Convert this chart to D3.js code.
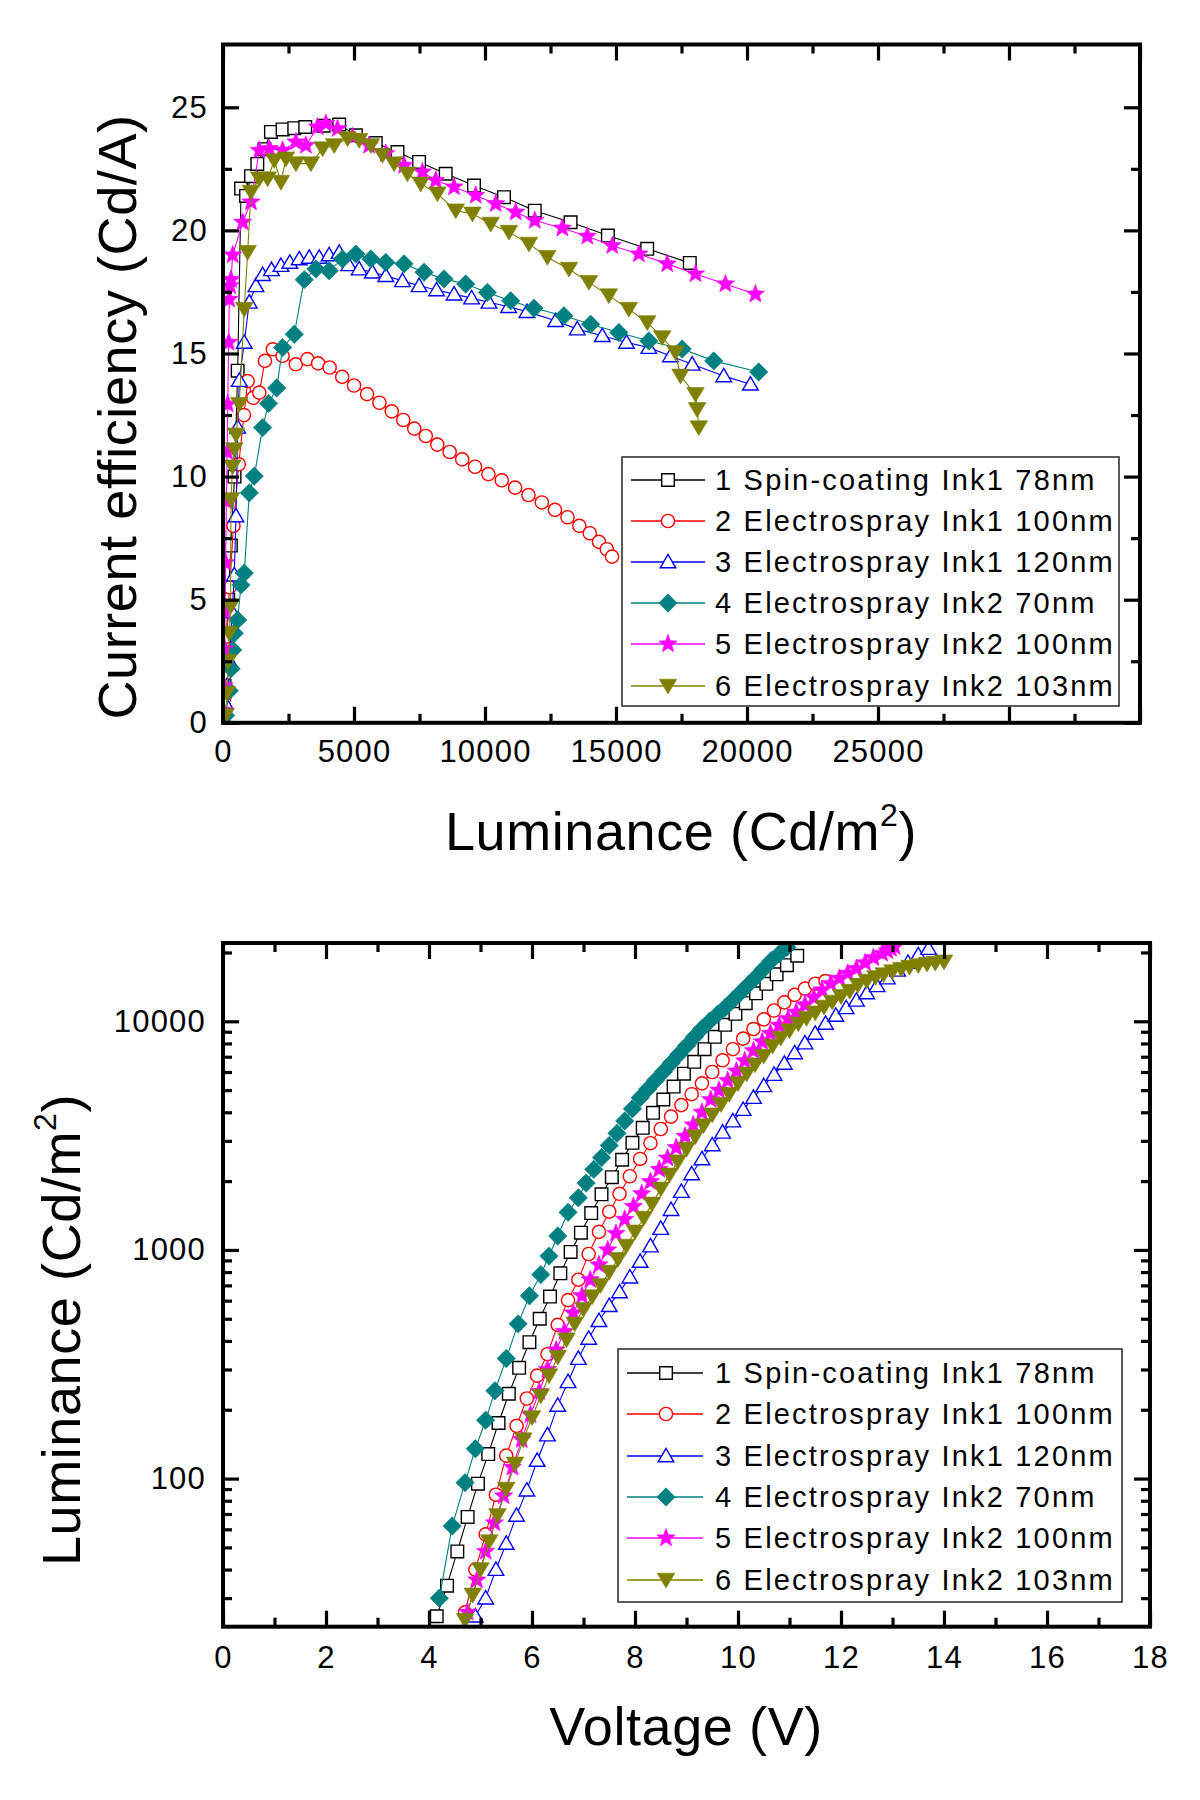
<!DOCTYPE html>
<html><head><meta charset="utf-8">
<script src="https://cdn.jsdelivr.net/npm/d3@7"></script>
<style>body{margin:0;background:#fff}svg{display:block}</style>
</head><body>
<svg id="c" width="1200" height="1800"></svg>
<script>
// ---------------- DATA ----------------
const seriesNames = ["1 Spin-coating Ink1 78nm","2 Electrospray Ink1 100nm","3 Electrospray Ink1 120nm","4 Electrospray Ink2 70nm","5 Electrospray Ink2 100nm","6 Electrospray Ink2 103nm"];
const seriesColors = ["#000000","#ff0000","#0000ff","#008080","#ff00ff","#808000"];
const seriesShapes = ["square","circle","triangleUp","diamond","star","triangleDown"];
const seriesFilled = [false,false,false,true,true,true];

// Top chart: luminance (Cd/m2) vs current efficiency (Cd/A)
const ceLum1 = [30,60,110,200,300,440,560,690,880,1070,1310,1580,1830,2275,2720,3138,3840,4435,5070,5830,6660,7484,8500,9580,10725,11900,13267,14690,16190,17816];
const ceEff1 = [0.5,1.5,3.0,5.0,7.2,10.0,14.3,21.7,21.4,22.2,22.7,23.3,24.0,24.1,24.15,24.2,24.25,24.3,23.86,23.55,23.18,22.78,22.3,21.82,21.35,20.8,20.33,19.79,19.25,18.68];
const ceLum2 = [25,50,90,150,250,400,600,800,941,1150,1385,1600,1900,2275,2780,3220,3630,4070,4550,5000,5500,5970,6440,6880,7300,7740,8180,8650,9130,9620,10130,10640,11150,11660,12170,12670,13150,13600,14000,14350,14650,14850];
const ceEff2 = [0.3,1.0,2.0,3.5,5.5,8.0,10.5,12.5,13.88,13.2,13.41,14.7,15.17,14.9,14.56,14.77,14.6,14.43,14.05,13.7,13.35,13.0,12.65,12.3,11.95,11.65,11.3,11.0,10.7,10.4,10.1,9.85,9.55,9.25,8.95,8.65,8.35,8.0,7.7,7.35,7.05,6.75];
const ceLum3 = [30,80,150,250,350,430,496,560,622,812,1003,1258,1513,1850,2211,2550,2910,3290,3672,4050,4435,4800,5197,5700,6214,6850,7484,8150,8820,9490,10152,10900,11600,12695,13523,14476,15400,16253,17080,17907,19112,20130];
const ceEff3 = [0.2,0.8,1.5,2.5,4.5,6.0,8.4,12.0,13.9,15.45,17.08,17.75,18.2,18.4,18.57,18.7,18.84,18.9,18.9,19.0,19.1,18.6,18.43,18.3,18.16,17.95,17.75,17.58,17.41,17.25,17.08,16.9,16.7,16.33,15.99,15.72,15.45,15.24,14.9,14.56,14.09,13.75];
const ceLum4 = [100,240,305,370,431,560,686,812,1003,1194,1513,1740,2050,2275,2720,3100,3546,4053,4563,5070,5642,6214,6912,7675,8437,9264,10091,10980,11870,13012,14030,15109,16253,17525,18730,20446];
const ceEff4 = [0.3,1.3,2.2,2.96,3.64,4.18,5.6,6.08,9.34,10.02,11.99,12.97,13.6,15.24,15.78,18.0,18.43,18.36,18.84,19.04,18.84,18.7,18.64,18.3,18.03,17.82,17.48,17.14,16.84,16.53,16.19,15.85,15.51,15.18,14.7,14.25];
const ceLum5 = [20,40,60,80,100,130,160,180,217,240,270,305,370,751,1067,1385,1766,2275,2783,3164,3610,3927,4372,4950,5578,6214,6912,7613,8120,8820,9645,10408,11170,11900,12951,13904,14857,15872,16955,18033,19176,20320];
const ceEff5 = [0.5,1.5,3.0,4.5,6.5,9.0,11.0,12.94,15.45,17.2,17.75,18.0,19.0,20.33,21.15,23.25,23.32,23.25,23.59,23.45,24.2,24.34,24.13,23.8,23.45,23.12,22.64,22.37,22.03,21.76,21.42,21.08,20.74,20.4,20.09,19.76,19.38,19.04,18.64,18.23,17.82,17.41];
const ceLum6 = [100,145,200,240,290,305,362,430,496,622,812,941,1067,1385,1703,1957,2211,2402,2783,3355,3801,4245,4753,5197,5642,6088,6531,7041,7549,8185,8883,9520,10217,10915,11678,12378,13203,13965,14728,15490,16192,16764,17270,17460,18033,18097,18160];
const ceEff6 = [0.3,1.2,2.5,3.64,4.72,9.07,10.4,11.1,11.7,12.94,16.8,19.11,21.56,22.1,22.1,22.84,21.96,22.91,22.71,22.71,23.32,23.45,23.73,23.66,23.45,23.05,22.71,22.3,21.89,21.49,20.8,20.67,20.26,19.93,19.45,18.91,18.43,17.89,17.35,16.8,16.26,15.65,15.04,14.09,13.34,12.73,11.99];

// Bottom chart: voltage (V) vs luminance (Cd/m2)
const jvVolt1 = [4.15,4.35,4.55,4.75,4.95,5.15,5.35,5.55,5.75,5.95,6.15,6.35,6.55,6.75,6.95,7.15,7.35,7.55,7.75,7.95,8.15,8.35,8.55,8.75,8.95,9.15,9.35,9.55,9.75,9.95,10.15,10.35,10.55,10.75,10.95,11.15];
const jvLum1 = [25,34,48,68,95,128,175,235,305,395,500,625,790,980,1190,1450,1750,2080,2480,2940,3420,3980,4550,5180,5900,6650,7550,8550,9650,10780,12000,13250,14580,16050,17600,19350];
const jvVolt2 = [4.7,4.9,5.1,5.3,5.5,5.7,5.9,6.1,6.3,6.5,6.7,6.9,7.1,7.3,7.5,7.7,7.9,8.1,8.3,8.5,8.7,8.9,9.1,9.3,9.5,9.7,9.9,10.1,10.3,10.5,10.7,10.9,11.1,11.3,11.5,11.7];
const jvLum2 = [26,40,57,85,126,170,224,282,350,470,603,741,960,1200,1470,1760,2100,2500,2930,3380,3830,4300,4800,5350,6000,6750,7550,8400,9250,10200,11150,12100,13050,13900,14600,15000];
const jvVolt3 = [4.9,5.1,5.3,5.5,5.7,5.9,6.1,6.3,6.5,6.7,6.9,7.1,7.3,7.5,7.7,7.9,8.1,8.3,8.5,8.7,8.9,9.1,9.3,9.5,9.7,9.9,10.1,10.3,10.5,10.7,10.9,11.1,11.3,11.5,11.7,11.9,12.1,12.3,12.5,12.7,12.9,13.1,13.3,13.5,13.7];
const jvLum3 = [25,30,40,52,69,89,120,155,209,265,335,410,490,570,655,760,890,1040,1240,1500,1800,2150,2500,2880,3270,3660,4110,4640,5220,5850,6540,7270,8030,8850,9780,10600,11450,12350,13300,14300,15450,16700,18100,19500,20800];
const jvVolt4 = [4.2,4.45,4.7,4.9,5.1,5.28,5.5,5.73,5.95,6.17,6.33,6.5,6.7,6.9,7.05,7.2,7.35,7.5,7.65,7.8,7.95,8.1,8.25,8.4,8.55,8.7,8.85,9.0,9.15,9.3,9.45,9.6,9.75,9.9,10.05,10.2,10.35,10.5,10.65,10.8,10.95];
const jvLum4 = [30,62,96,135,180,242,335,475,630,780,940,1150,1460,1690,1960,2250,2535,2866,3236,3664,4140,4634,5058,5520,6012,6561,7161,7814,8531,9290,10000,10720,11480,12380,13370,14450,15630,16980,18450,19720,21090];
const jvVolt5 = [4.75,4.93,5.1,5.27,5.45,5.62,5.8,5.97,6.14,6.3,6.47,6.63,6.8,6.97,7.13,7.3,7.47,7.63,7.8,7.97,8.13,8.3,8.47,8.63,8.8,8.97,9.13,9.3,9.47,9.63,9.8,9.97,10.13,10.3,10.47,10.63,10.8,10.97,11.13,11.3,11.47,11.63,11.8,11.97,12.13,12.3,12.47,12.63,12.8,12.9,12.97,13.04];
const jvLum5 = [26,36,48,64,84,112,148,190,240,300,365,440,530,630,740,860,1000,1180,1360,1550,1760,1990,2250,2520,2800,3140,3520,4000,4540,4990,5500,6050,6710,7430,8130,8850,9600,10250,10950,11800,12700,13700,14600,15400,16200,17000,18000,18950,19800,20300,20800,21200];
const jvVolt6 = [4.7,4.85,5.0,5.17,5.33,5.5,5.67,5.83,6.0,6.17,6.33,6.5,6.67,6.83,7.0,7.17,7.33,7.5,7.67,7.83,8.0,8.17,8.33,8.5,8.67,8.83,9.0,9.17,9.33,9.5,9.67,9.83,10.0,10.17,10.33,10.5,10.67,10.83,11.0,11.17,11.33,11.5,11.67,11.83,12.0,12.17,12.33,12.5,12.67,12.83,13.0,13.17,13.33,13.5,13.67,13.83,14.0];
const jvLum6 = [24,31,40,53,69,90,116,148,185,230,282,340,405,475,550,625,700,800,910,1040,1200,1380,1590,1850,2130,2430,2760,3130,3500,3900,4330,4800,5350,5900,6450,7050,7800,8450,9100,9750,10300,10900,11550,12150,12850,13550,14400,15000,15550,16000,16500,16900,17250,17550,17800,18000,18200];

// Axis ticks
const ceXMajor = [0,5000,10000,15000,20000,25000,30000,35000];
const ceXLabels = ["0","5000","10000","15000","20000","25000","",""];
const ceXMinor = [2500,7500,12500,17500,22500,27500,32500];
const ceYMajor = [0,5,10,15,20,25];
const ceYMinor = [2.5,7.5,12.5,17.5,22.5];
const jvXMajor = [0,2,4,6,8,10,12,14,16,18];
const jvXMinor = [1,3,5,7,9,11,13,15,17];
const jvYMajor = [100,1000,10000];
const jvYMinor = [30,40,50,60,70,80,90,200,300,400,500,600,700,800,900,2000,3000,4000,5000,6000,7000,8000,9000,20000];

// ---------------- DRAWING ----------------
const FONT = "'Liberation Sans', Arial, Helvetica, sans-serif";
const svg = d3.select("#c");
svg.append("rect").attr("width",1200).attr("height",1800).attr("fill","#fff");

function starPath(R, r) {
  const pts = [];
  for (let i = 0; i < 10; i++) {
    const a = -Math.PI/2 + i*Math.PI/5;
    const rr = i % 2 === 0 ? R : r;
    pts.push([rr*Math.cos(a), rr*Math.sin(a)]);
  }
  return "M" + pts.map(p => p[0].toFixed(2)+","+p[1].toFixed(2)).join("L") + "Z";
}
function markerPath(shape) {
  switch (shape) {
    case "square": return "M-6.3,-6.3H6.3V6.3H-6.3Z";
    case "circle": return "M6.6,0A6.6,6.6 0 1,1 -6.6,0A6.6,6.6 0 1,1 6.6,0Z";
    case "triangleUp": return "M0,-7.6L7.8,5.8L-7.8,5.8Z";
    case "triangleDown": return "M0,8L-8.8,-6.8L8.8,-6.8Z";
    case "diamond": return "M0,-9.2L9.2,0L0,9.2L-9.2,0Z";
    case "star": return starPath(9.6, 4.1);
  }
}
function styleMarker(sel, i) {
  sel.attr("d", markerPath(seriesShapes[i]))
    .attr("fill", seriesFilled[i] ? seriesColors[i] : "#fff")
    .attr("stroke", seriesColors[i])
    .attr("stroke-width", seriesFilled[i] ? 0.6 : 1.4);
}

function drawPanel(cfg) {
  const g = svg.append("g");
  const clipId = "clip" + cfg.id;
  g.append("clipPath").attr("id", clipId).append("rect")
    .attr("x", cfg.l).attr("y", cfg.t).attr("width", cfg.r - cfg.l).attr("height", cfg.b - cfg.t);
  const data = g.append("g").attr("clip-path", `url(#${clipId})`);
  cfg.series.forEach((s, i) => {
    const pts = s.x.map((v, k) => [v, s.y[k]]);
    const line = d3.line().x(d => cfg.x(d[0])).y(d => cfg.y(d[1]));
    data.append("path").attr("d", line(pts)).attr("fill","none")
      .attr("stroke", seriesColors[i]).attr("stroke-width", 1.1);
    data.append("g").selectAll("path").data(pts).join("path")
      .attr("transform", d => `translate(${cfg.x(d[0])},${cfg.y(d[1])})`)
      .call(styleMarker, i);
  });

  const axStyle = (a) => {
    a.select(".domain").remove();
    a.selectAll("line").attr("stroke","#000").attr("stroke-width",3.2);
    a.selectAll("text").attr("font-family", FONT).attr("font-size", 31)
      .attr("fill","#000").attr("letter-spacing", 1.2);
  };
  const MJ = -16, MN = -9;
  g.append("g").attr("transform",`translate(0,${cfg.b})`)
    .call(d3.axisBottom(cfg.x).tickValues(cfg.xMajor).tickFormat((d,i)=>cfg.xLabels[i]).tickSizeInner(MJ).tickSizeOuter(0).tickPadding(cfg.xPad)).call(axStyle);
  g.append("g").attr("transform",`translate(0,${cfg.b})`)
    .call(d3.axisBottom(cfg.x).tickValues(cfg.xMinor).tickFormat("").tickSizeInner(MN).tickSizeOuter(0)).call(axStyle);
  g.append("g").attr("transform",`translate(0,${cfg.t})`)
    .call(d3.axisTop(cfg.x).tickValues(cfg.xMajor).tickFormat("").tickSizeInner(MJ).tickSizeOuter(0)).call(axStyle);
  g.append("g").attr("transform",`translate(0,${cfg.t})`)
    .call(d3.axisTop(cfg.x).tickValues(cfg.xMinor).tickFormat("").tickSizeInner(MN).tickSizeOuter(0)).call(axStyle);
  g.append("g").attr("transform",`translate(${cfg.l},0)`)
    .call(d3.axisLeft(cfg.y).tickValues(cfg.yMajor).tickFormat((d,i)=>cfg.yLabels[i]).tickSizeInner(MJ).tickSizeOuter(0).tickPadding(cfg.yPad)).call(axStyle);
  g.append("g").attr("transform",`translate(${cfg.l},0)`)
    .call(d3.axisLeft(cfg.y).tickValues(cfg.yMinor).tickFormat("").tickSizeInner(MN).tickSizeOuter(0)).call(axStyle);
  g.append("g").attr("transform",`translate(${cfg.r},0)`)
    .call(d3.axisRight(cfg.y).tickValues(cfg.yMajor).tickFormat("").tickSizeInner(MJ).tickSizeOuter(0)).call(axStyle);
  g.append("g").attr("transform",`translate(${cfg.r},0)`)
    .call(d3.axisRight(cfg.y).tickValues(cfg.yMinor).tickFormat("").tickSizeInner(MN).tickSizeOuter(0)).call(axStyle);
  g.append("rect").attr("x",cfg.l).attr("y",cfg.t).attr("width",cfg.r-cfg.l).attr("height",cfg.b-cfg.t)
    .attr("fill","none").attr("stroke","#000").attr("stroke-width",4);

  const L = cfg.legend;
  g.append("rect").attr("x",L.x0).attr("y",L.y0).attr("width",L.x1-L.x0).attr("height",L.y1-L.y0)
    .attr("fill","#fff").attr("stroke","#333").attr("stroke-width",1.6);
  seriesNames.forEach((nm, i) => {
    const yy = L.rows[i];
    g.append("line").attr("x1",L.lx0).attr("x2",L.lx1).attr("y1",yy).attr("y2",yy)
      .attr("stroke",seriesColors[i]).attr("stroke-width",1.6);
    g.append("path").attr("transform",`translate(${L.sx},${yy})`).call(styleMarker, i);
    g.append("text").attr("x",L.tx).attr("y",yy).attr("dy","0.36em")
      .attr("font-family",FONT).attr("font-size",29).attr("letter-spacing",2.2)
      .attr("fill","#000").text(nm);
  });
}

const topBox = {l:223, r:1140, t:44.5, b:722.8};
const xTop = d3.scaleLinear().domain([0,35000]).range([topBox.l, topBox.r]);
const yTop = d3.scaleLinear().domain([0,27.55]).range([topBox.b, topBox.t]);
drawPanel(Object.assign({id:"top", x:xTop, y:yTop,
  series:[{x:ceLum1,y:ceEff1},{x:ceLum2,y:ceEff2},{x:ceLum3,y:ceEff3},{x:ceLum4,y:ceEff4},{x:ceLum5,y:ceEff5},{x:ceLum6,y:ceEff6}],
  xMajor:ceXMajor, xLabels:ceXLabels, xMinor:ceXMinor, xPad:17,
  yMajor:ceYMajor, yLabels:ceYMajor.map(String), yMinor:ceYMinor, yPad:15,
  legend:{x0:622,x1:1119,y0:457,y1:706,rows:[480,521,562,603,644,686],lx0:631,lx1:705,sx:668,tx:715}
}, topBox));

const botBox = {l:223, r:1150, t:943, b:1626.7};
const xBot = d3.scaleLinear().domain([0,18]).range([botBox.l, botBox.r]);
const yBot = d3.scaleLog().domain([22.5,22000]).range([botBox.b, botBox.t]);
drawPanel(Object.assign({id:"bot", x:xBot, y:yBot,
  series:[{x:jvVolt1,y:jvLum1},{x:jvVolt2,y:jvLum2},{x:jvVolt3,y:jvLum3},{x:jvVolt4,y:jvLum4},{x:jvVolt5,y:jvLum5},{x:jvVolt6,y:jvLum6}],
  xMajor:jvXMajor, xLabels:jvXMajor.map(String), xMinor:jvXMinor, xPad:19,
  yMajor:jvYMajor, yLabels:jvYMajor.map(String), yMinor:jvYMinor, yPad:17,
  legend:{x0:618,x1:1122,y0:1349,y1:1602,rows:[1373,1414,1456,1497,1538,1580],lx0:627,lx1:703,sx:666,tx:715}
}, botBox));

function title(x, y, rot, parts) {
  const t = svg.append("text").attr("transform",`translate(${x},${y}) rotate(${rot})`)
    .attr("text-anchor","middle").attr("font-family",FONT).attr("font-size",54)
    .attr("letter-spacing",0.6).attr("fill","#000");
  parts.forEach(p => {
    const ts = t.append("tspan").text(p.t);
    if (p.sup) ts.attr("font-size",32).attr("dy",-24);
    if (p.after) ts.attr("dy",24);
  });
}
title(681, 850, 0, [{t:"Luminance (Cd/m"},{t:"2",sup:true},{t:")",after:true}]);
title(136, 417, -90, [{t:"Current efficiency (Cd/A)"}]);
title(80, 1330, -90, [{t:"Luminance (Cd/m"},{t:"2",sup:true},{t:")",after:true}]);
title(686, 1745, 0, [{t:"Voltage (V)"}]);
</script>
</body></html>
